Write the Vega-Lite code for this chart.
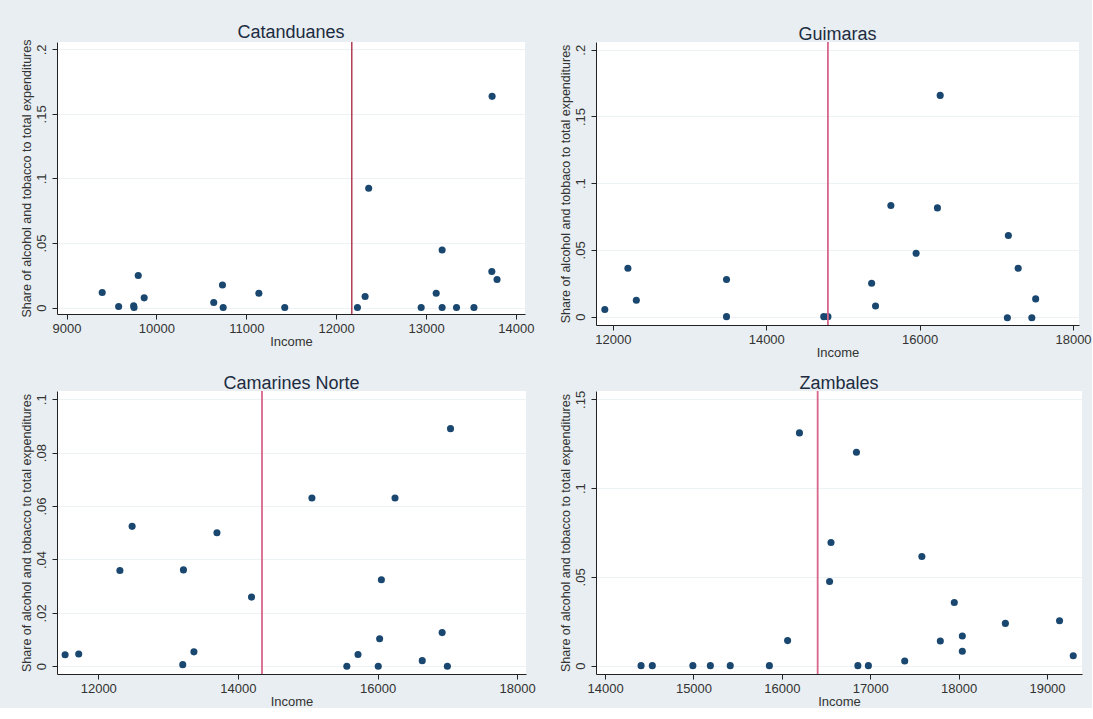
{
  "$schema": "https://vega.github.io/schema/vega-lite/v6.json",
  "background": "#e8eef1",
  "padding": {"left": 19, "top": 24, "right": 0, "bottom": 0},
  "datasets": {
    "pts": [
      {"region": "Catanduanes", "income": 9397, "share": 0.0116},
      {"region": "Catanduanes", "income": 9580, "share": 0.0008},
      {"region": "Catanduanes", "income": 9747, "share": 0.0013},
      {"region": "Catanduanes", "income": 9751, "share": 0},
      {"region": "Catanduanes", "income": 9798, "share": 0.0248},
      {"region": "Catanduanes", "income": 9864, "share": 0.0075},
      {"region": "Catanduanes", "income": 10638, "share": 0.0039},
      {"region": "Catanduanes", "income": 10735, "share": 0.0175},
      {"region": "Catanduanes", "income": 10743, "share": 0},
      {"region": "Catanduanes", "income": 11140, "share": 0.0111},
      {"region": "Catanduanes", "income": 11428, "share": 0},
      {"region": "Catanduanes", "income": 12237, "share": 0},
      {"region": "Catanduanes", "income": 12322, "share": 0.0085},
      {"region": "Catanduanes", "income": 12362, "share": 0.0924},
      {"region": "Catanduanes", "income": 12946, "share": 0},
      {"region": "Catanduanes", "income": 13113, "share": 0.0111},
      {"region": "Catanduanes", "income": 13179, "share": 0.0446},
      {"region": "Catanduanes", "income": 13179, "share": 0},
      {"region": "Catanduanes", "income": 13339, "share": 0},
      {"region": "Catanduanes", "income": 13533, "share": 0},
      {"region": "Catanduanes", "income": 13735, "share": 0.1636},
      {"region": "Catanduanes", "income": 13732, "share": 0.0279},
      {"region": "Catanduanes", "income": 13790, "share": 0.0217},
      {"region": "Guimaras", "income": 11895, "share": 0.0053},
      {"region": "Guimaras", "income": 12196, "share": 0.0363},
      {"region": "Guimaras", "income": 12306, "share": 0.0123},
      {"region": "Guimaras", "income": 13482, "share": 0.0278},
      {"region": "Guimaras", "income": 13482, "share": 0},
      {"region": "Guimaras", "income": 14750, "share": 0},
      {"region": "Guimaras", "income": 14804, "share": 0},
      {"region": "Guimaras", "income": 15374, "share": 0.025},
      {"region": "Guimaras", "income": 15425, "share": 0.008},
      {"region": "Guimaras", "income": 15625, "share": 0.0833},
      {"region": "Guimaras", "income": 15954, "share": 0.0475},
      {"region": "Guimaras", "income": 16232, "share": 0.0815},
      {"region": "Guimaras", "income": 16268, "share": 0.1658},
      {"region": "Guimaras", "income": 17157, "share": 0.0608},
      {"region": "Guimaras", "income": 17144, "share": -0.0008},
      {"region": "Guimaras", "income": 17285, "share": 0.0363},
      {"region": "Guimaras", "income": 17463, "share": -0.0008},
      {"region": "Guimaras", "income": 17513, "share": 0.0133},
      {"region": "Camarines Norte", "income": 11525, "share": 0.0043},
      {"region": "Camarines Norte", "income": 11720, "share": 0.0046},
      {"region": "Camarines Norte", "income": 12310, "share": 0.0359},
      {"region": "Camarines Norte", "income": 12485, "share": 0.0524},
      {"region": "Camarines Norte", "income": 13210, "share": 0.0006},
      {"region": "Camarines Norte", "income": 13220, "share": 0.0361},
      {"region": "Camarines Norte", "income": 13370, "share": 0.0054},
      {"region": "Camarines Norte", "income": 13700, "share": 0.05},
      {"region": "Camarines Norte", "income": 14195, "share": 0.0259},
      {"region": "Camarines Norte", "income": 15060, "share": 0.063},
      {"region": "Camarines Norte", "income": 15560, "share": 0},
      {"region": "Camarines Norte", "income": 15720, "share": 0.0044},
      {"region": "Camarines Norte", "income": 16010, "share": 0},
      {"region": "Camarines Norte", "income": 16030, "share": 0.0103},
      {"region": "Camarines Norte", "income": 16055, "share": 0.0324},
      {"region": "Camarines Norte", "income": 16250, "share": 0.063},
      {"region": "Camarines Norte", "income": 16640, "share": 0.0021},
      {"region": "Camarines Norte", "income": 16925, "share": 0.0126},
      {"region": "Camarines Norte", "income": 17000, "share": 0},
      {"region": "Camarines Norte", "income": 17045, "share": 0.089},
      {"region": "Zambales", "income": 14407, "share": 0},
      {"region": "Zambales", "income": 14534, "share": 0},
      {"region": "Zambales", "income": 14993, "share": 0},
      {"region": "Zambales", "income": 15191, "share": 0},
      {"region": "Zambales", "income": 15416, "share": 0},
      {"region": "Zambales", "income": 15859, "share": 0},
      {"region": "Zambales", "income": 16065, "share": 0.0141},
      {"region": "Zambales", "income": 16199, "share": 0.1311},
      {"region": "Zambales", "income": 16540, "share": 0.0474},
      {"region": "Zambales", "income": 16556, "share": 0.0694},
      {"region": "Zambales", "income": 16844, "share": 0.1202},
      {"region": "Zambales", "income": 16860, "share": 0},
      {"region": "Zambales", "income": 16979, "share": 0},
      {"region": "Zambales", "income": 17390, "share": 0.0026},
      {"region": "Zambales", "income": 17584, "share": 0.0615},
      {"region": "Zambales", "income": 17793, "share": 0.0139},
      {"region": "Zambales", "income": 17951, "share": 0.0356},
      {"region": "Zambales", "income": 18042, "share": 0.0167},
      {"region": "Zambales", "income": 18042, "share": 0.0081},
      {"region": "Zambales", "income": 18529, "share": 0.0238},
      {"region": "Zambales", "income": 19142, "share": 0.0253},
      {"region": "Zambales", "income": 19297, "share": 0.0056}
    ],
    "cut": [
      {"region": "Catanduanes", "income": 12174},
      {"region": "Guimaras", "income": 14804},
      {"region": "Camarines Norte", "income": 14345},
      {"region": "Zambales", "income": 16405}
    ]
  },
  "columns": 2,
  "bounds": "flush",
  "spacing": {"row": 66, "column": 70},
  "concat": [
    {
      "title": "Catanduanes",
      "width": 468,
      "height": 272,
      "layer": [
        {
          "data": {"name": "pts"},
          "transform": [{"filter": "datum.region == 'Catanduanes'"}],
          "mark": {"type": "circle", "size": 50, "color": "#1a476f", "opacity": 1},
          "encoding": {
            "x": {"field": "income", "type": "quantitative",
                  "scale": {"domain": [8894, 14101], "nice": false, "zero": false},
                  "axis": {"title": "Income", "values": [9000, 10000, 11000, 12000, 13000, 14000], "format": "d"}},
            "y": {"field": "share", "type": "quantitative",
                  "scale": {"domain": [-0.005, 0.2057], "nice": false, "zero": false},
                  "axis": {"title": "Share of alcohol and tobacco to total expenditures", "values": [0, 0.05, 0.1, 0.15, 0.2]}}
          }
        },
        {
          "data": {"name": "cut"},
          "transform": [{"filter": "datum.region == 'Catanduanes'"}],
          "mark": {"type": "rule", "color": "#a3203a", "strokeWidth": 1.3},
          "encoding": {"x": {"field": "income", "type": "quantitative"}}
        }
      ]
    },
    {
      "title": "Guimaras",
      "width": 483,
      "height": 283,
      "layer": [
        {
          "data": {"name": "pts"},
          "transform": [{"filter": "datum.region == 'Guimaras'"}],
          "mark": {"type": "circle", "size": 50, "color": "#1a476f", "opacity": 1},
          "encoding": {
            "x": {"field": "income", "type": "quantitative",
                  "scale": {"domain": [11780, 18078], "nice": false, "zero": false},
                  "axis": {"title": "Income", "values": [12000, 14000, 16000, 18000], "format": "d"}},
            "y": {"field": "share", "type": "quantitative",
                  "scale": {"domain": [-0.00625, 0.2058], "nice": false, "zero": false},
                  "axis": {"title": "Share of alcohol and tobbaco to total expenditures", "values": [0, 0.05, 0.1, 0.15, 0.2]}}
          }
        },
        {
          "data": {"name": "cut"},
          "transform": [{"filter": "datum.region == 'Guimaras'"}],
          "mark": {"type": "rule", "color": "#d8668a", "strokeWidth": 1.8},
          "encoding": {"x": {"field": "income", "type": "quantitative"}}
        }
      ]
    },
    {
      "title": "Camarines Norte",
      "width": 469,
      "height": 283,
      "layer": [
        {
          "data": {"name": "pts"},
          "transform": [{"filter": "datum.region == 'Camarines Norte'"}],
          "mark": {"type": "circle", "size": 50, "color": "#1a476f", "opacity": 1},
          "encoding": {
            "x": {"field": "income", "type": "quantitative",
                  "scale": {"domain": [11409, 18126], "nice": false, "zero": false},
                  "axis": {"title": "Income", "values": [12000, 14000, 16000, 18000], "format": "d"}},
            "y": {"field": "share", "type": "quantitative",
                  "scale": {"domain": [-0.0029, 0.1031], "nice": false, "zero": false},
                  "axis": {"title": "Share of alcohol and tobacco to total expenditures", "values": [0, 0.02, 0.04, 0.06, 0.08, 0.1]}}
          }
        },
        {
          "data": {"name": "cut"},
          "transform": [{"filter": "datum.region == 'Camarines Norte'"}],
          "mark": {"type": "rule", "color": "#d8668a", "strokeWidth": 1.8},
          "encoding": {"x": {"field": "income", "type": "quantitative"}}
        }
      ]
    },
    {
      "title": "Zambales",
      "width": 486,
      "height": 283,
      "layer": [
        {
          "data": {"name": "pts"},
          "transform": [{"filter": "datum.region == 'Zambales'"}],
          "mark": {"type": "circle", "size": 50, "color": "#1a476f", "opacity": 1},
          "encoding": {
            "x": {"field": "income", "type": "quantitative",
                  "scale": {"domain": [13897, 19396], "nice": false, "zero": false},
                  "axis": {"title": "Income", "values": [14000, 15000, 16000, 17000, 18000, 19000], "format": "d"}},
            "y": {"field": "share", "type": "quantitative",
                  "scale": {"domain": [-0.0047, 0.1547], "nice": false, "zero": false},
                  "axis": {"title": "Share of alcohol and tobacco to total expenditures", "values": [0, 0.05, 0.1, 0.15]}}
          }
        },
        {
          "data": {"name": "cut"},
          "transform": [{"filter": "datum.region == 'Zambales'"}],
          "mark": {"type": "rule", "color": "#d8668a", "strokeWidth": 1.8},
          "encoding": {"x": {"field": "income", "type": "quantitative"}}
        }
      ]
    }
  ],
  "config": {
    "font": "Liberation Sans",
    "view": {"fill": "#ffffff", "stroke": null},
    "title": {"fontSize": 18, "fontWeight": "normal", "color": "#1c2b3f", "offset": -3, "font": "Liberation Sans"},
    "axis": {
      "domainColor": "#222222",
      "tickColor": "#222222",
      "labelColor": "#333333",
      "titleColor": "#333333",
      "labelFontSize": 13,
      "titleFontSize": 13,
      "titleFontWeight": "normal",
      "tickSize": 5,
      "grid": false,
      "labelFont": "Liberation Sans",
      "titleFont": "Liberation Sans"
    },
    "axisX": {"labelPadding": 3, "titlePadding": 0},
    "axisY": {
      "labelAngle": 270,
      "labelPadding": 4,
      "titlePadding": 2,
      "titleFontSize": 12.5,
      "grid": true,
      "gridColor": "#edf2f4",
      "labelExpr": "datum.value == 0 ? '0' : replace(format(datum.value, '~g'), '0.', '.')"
    }
  }
}
